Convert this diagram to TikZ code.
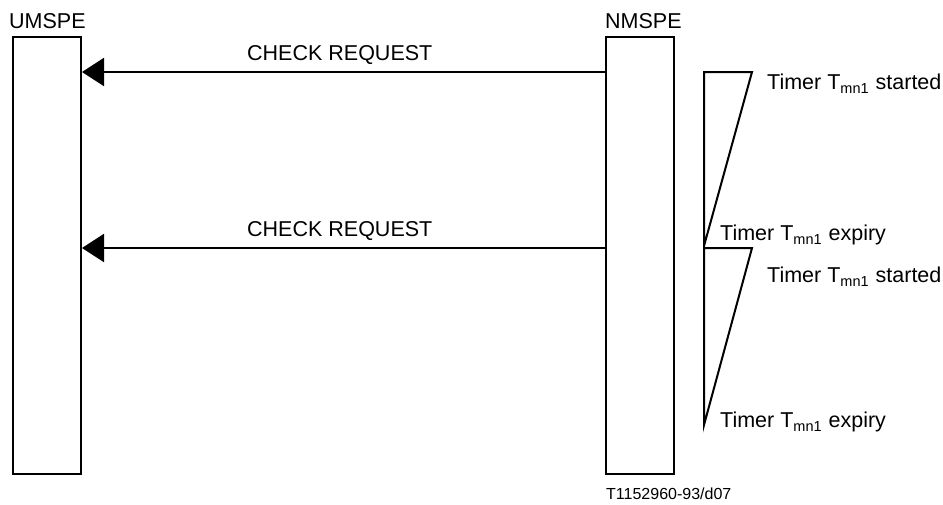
\documentclass[tikz,border=0pt]{standalone}
\usepackage{fontspec}
\setmainfont{Liberation Sans}
\usetikzlibrary{arrows.meta}
\newcommand{\Tmn}{T\raisebox{-4.5pt}{\fontsize{14.5}{16}\selectfont mn1}\hspace{7pt}}
\begin{document}
\begin{tikzpicture}[x=1pt,y=-1pt,
  entity/.style={draw, line width=2pt, minimum width=68pt, minimum height=437pt, inner sep=0pt},
  msg/.style={line width=2pt, -{Triangle[length=22pt,width=28pt]}},
  tline/.style={line width=2pt, line join=miter},
  lbl/.style={anchor=base west, inner sep=0pt, font=\fontsize{21.5}{25}\selectfont},
  small/.style={anchor=base west, inner sep=0pt, font=\fontsize{16}{19}\selectfont}]
\useasboundingbox (0,0) rectangle (943,504);
% entities
\node[entity] (umspe) at (47,255.5) {};
\node[entity] (nmspe) at (640,255.5) {};
\node[lbl] (uname) at (9,28) {UMSPE};
\node[lbl] (nname) at (605,28) {NMSPE};
% messages
\coordinate (m1) at (0,72);
\coordinate (m2) at (0,248);
\draw[msg] (nmspe.west |- m1) -- (umspe.east |- m1);
\draw[msg] (nmspe.west |- m2) -- (umspe.east |- m2);
\node[lbl] (l1) at (247,60) {CHECK REQUEST};
\node[lbl] (l2) at (247,236) {CHECK REQUEST};
% timers
\draw[tline] (704,72) -- (752,72) -- (704,246) -- cycle;
\draw[tline] (704,248) -- (752,248) -- (704,425) -- cycle;
\node[lbl] (t1s) at (767,89) {Timer \Tmn started};
\node[lbl] (t1e) at (720,240) {Timer \Tmn expiry};
\node[lbl] (t2s) at (767,282) {Timer \Tmn started};
\node[lbl] (t2e) at (720,427) {Timer \Tmn expiry};
% figure id
\node[small] (fid) at (606,499) {T1152960-93/d07};
\end{tikzpicture}
\end{document}
